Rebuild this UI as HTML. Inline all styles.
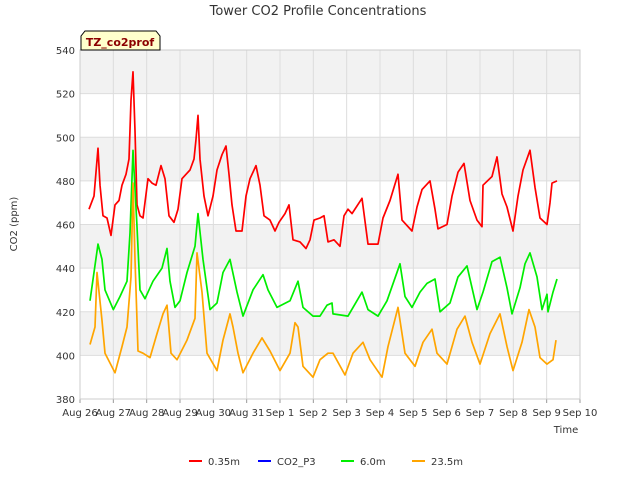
<!DOCTYPE html>
<html><head><meta charset="utf-8"><style>
body{margin:0;background:#fff;font-family:"Liberation Sans",sans-serif}
svg text{font-family:"DejaVu Sans","Liberation Sans",sans-serif}
</style></head><body>
<svg id="chart" width="640" height="480" xmlns="http://www.w3.org/2000/svg">
<rect width="640" height="480" fill="#fff"/>
<g id="bands"></g><g id="grid"></g><g id="series"></g><g id="axes"></g>
<text x="318" y="15" text-anchor="middle" font-size="13" fill="#333">Tower CO2 Profile Concentrations</text>
<text transform="translate(17,224) rotate(-90)" text-anchor="middle" font-size="10" fill="#333">CO2 (ppm)</text>
<text x="566" y="433" text-anchor="middle" font-size="10" fill="#333">Time</text>
<g>
<path d="M81,50 L81,36 L85,31 L156,31 L160,36 L160,50 Z" fill="#ffffcc" stroke="#000" stroke-width="1"/>
<text x="120" y="46" text-anchor="middle" font-size="11" font-weight="bold" fill="#8b0000">TZ_co2prof</text>
</g>
<g>
<g><line x1="189" y1="461" x2="202" y2="461" stroke="#ff0000" stroke-width="2"/><text x="208" y="465" font-size="10" fill="#333">0.35m</text></g>
<g><line x1="258" y1="461" x2="271" y2="461" stroke="#0000ff" stroke-width="2"/><text x="277" y="465" font-size="10" fill="#333">CO2_P3</text></g>
<g><line x1="341" y1="461" x2="354" y2="461" stroke="#00ee00" stroke-width="2"/><text x="360" y="465" font-size="10" fill="#333">6.0m</text></g>
<g><line x1="412" y1="461" x2="425" y2="461" stroke="#ffa500" stroke-width="2"/><text x="431" y="465" font-size="10" fill="#333">23.5m</text></g>
</g>
</svg>
<script>
const xTickLabels=["Aug 26","Aug 27","Aug 28","Aug 29","Aug 30","Aug 31","Sep 1","Sep 2","Sep 3","Sep 4","Sep 5","Sep 6","Sep 7","Sep 8","Sep 9","Sep 10"];
const yTicks=[380,400,420,440,460,480,500,520,540];
const redT=[0.27,0.42,0.54,0.6,0.69,0.81,0.93,1.05,1.17,1.26,1.38,1.47,1.53,1.59,1.65,1.71,1.8,1.89,2.04,2.16,2.28,2.43,2.55,2.67,2.82,2.94,3.06,3.18,3.3,3.42,3.48,3.54,3.6,3.72,3.84,3.99,4.11,4.26,4.38,4.47,4.56,4.68,4.86,4.98,5.1,5.28,5.4,5.52,5.7,5.85,5.97,6.15,6.27,6.39,6.6,6.78,6.9,7.02,7.2,7.32,7.44,7.62,7.8,7.92,8.04,8.16,8.46,8.64,8.94,9.09,9.3,9.54,9.66,9.96,10.11,10.26,10.5,10.65,10.74,11.01,11.16,11.34,11.52,11.7,11.91,12.06,12.09,12.36,12.51,12.66,12.81,12.99,13.14,13.29,13.5,13.65,13.8,14.01,14.1,14.16,14.31];
const redV=[467,473,495,478,464,463,455,469,471,478,483,490,517,530,503,469,464,463,481,479,478,487,481,464,461,467,481,483,485,490,499,510,490,473,464,473,485,492,496,483,469,457,457,473,481,487,478,464,462,457,461,465,469,453,452,449,453,462,463,464,452,453,450,464,467,465,472,451,451,463,471,483,462,457,468,476,480,467,458,460,473,484,488,471,462,459,478,482,491,474,468,457,473,485,494,477,463,460,470,479,480];
const greenT=[0.3,0.54,0.66,0.75,1,1.2,1.41,1.5,1.59,1.71,1.8,1.95,2.19,2.46,2.61,2.7,2.85,3,3.21,3.45,3.54,3.69,3.9,4.11,4.29,4.5,4.71,4.89,5.19,5.49,5.64,5.91,6.3,6.54,6.69,6.99,7.2,7.41,7.56,7.59,8.04,8.46,8.64,8.94,9.21,9.6,9.75,9.96,10.2,10.41,10.65,10.8,11.1,11.34,11.61,11.91,12.09,12.36,12.6,12.81,12.96,13.2,13.35,13.5,13.71,13.86,14.01,14.04,14.19,14.31];
const greenV=[425,451,444,430,421,427,434,456,494,459,430,426,434,440,449,434,422,425,438,450,465,444,421,424,438,444,429,418,430,437,430,422,425,434,422,418,418,423,424,419,418,429,421,418,425,442,427,422,429,433,435,420,424,436,441,421,429,443,445,431,419,431,442,447,436,421,428,420,429,435];
const orangeT=[0.3,0.45,0.51,0.66,0.75,1.05,1.26,1.41,1.53,1.59,1.65,1.74,1.89,2.1,2.31,2.49,2.61,2.73,2.91,3.21,3.45,3.51,3.66,3.81,4.11,4.29,4.5,4.59,4.74,4.89,5.19,5.46,5.7,6,6.3,6.45,6.54,6.69,6.99,7.2,7.44,7.59,7.95,8.19,8.49,8.7,9.06,9.24,9.54,9.75,10.05,10.29,10.56,10.71,11.01,11.31,11.55,11.76,12,12.3,12.6,12.81,12.99,13.26,13.47,13.65,13.8,14.01,14.19,14.28];
const orangeV=[405,413,438,416,401,392,404,413,436,479,444,402,401,399,410,419,423,401,398,407,417,447,429,401,393,407,419,413,401,392,401,408,402,393,401,415,413,395,390,398,401,401,391,401,406,398,390,404,422,401,395,406,412,401,396,412,418,406,396,410,419,404,393,406,421,413,399,396,398,407];
const X0=80,X1=580,Y0=399,Y1=50,D0=0,D1=15,V0=380,V1=540;
const xs=d=>X0+(d-D0)/(D1-D0)*(X1-X0);
const ys=v=>Y0-(v-V0)/(V1-V0)*(Y0-Y1);
const NS="http://www.w3.org/2000/svg";
function mk(tag,attrs,parent){const e=document.createElementNS(NS,tag);for(const k in attrs)e.setAttribute(k,attrs[k]);document.getElementById(parent).appendChild(e);return e;}
for(let i=0;i<yTicks.length-1;i++){if(i%2===1){const r=mk('rect',{x:X0,y:ys(yTicks[i+1]),width:X1-X0,height:ys(yTicks[i])-ys(yTicks[i+1]),fill:'#f2f2f2'},'bands');

}}
yTicks.forEach(v=>{const l=mk('line',{x1:X0,x2:X1,y1:ys(v),y2:ys(v),stroke:'#dddddd','stroke-width':1},'grid');


const t=mk('text',{x:X0-5,y:ys(v)+4,'text-anchor':'end','font-size':10,fill:'#333'},'axes');t.textContent=v;

});
xTickLabels.forEach((s,i)=>{const l=mk('line',{x1:xs(i),x2:xs(i),y1:Y1,y2:Y0,stroke:'#dddddd','stroke-width':1},'grid');


const tk=mk('line',{x1:xs(i),x2:xs(i),y1:Y0,y2:Y0+4,stroke:'#999'},'axes');


const t=mk('text',{x:xs(i),y:Y0+17,'text-anchor':'middle','font-size':10,fill:'#333'},'axes');t.textContent=s;

});
const fr=mk('rect',{x:X0,y:Y1,width:X1-X0,height:Y0-Y1,fill:'none',stroke:'#cccccc'},'axes');


function line(T,V,color,name){const p=mk('polyline',{points:T.map((t,i)=>xs(t).toFixed(1)+','+ys(V[i]).toFixed(1)).join(' '),fill:'none',stroke:color,'stroke-width':1.7,'stroke-linejoin':'round'},'series');

}
line(redT,redV,'#ff0000','series-0.35m');
line(greenT,greenV,'#00ee00','series-6.0m');
line(orangeT,orangeV,'#ffa500','series-23.5m');
</script>
</body></html>
